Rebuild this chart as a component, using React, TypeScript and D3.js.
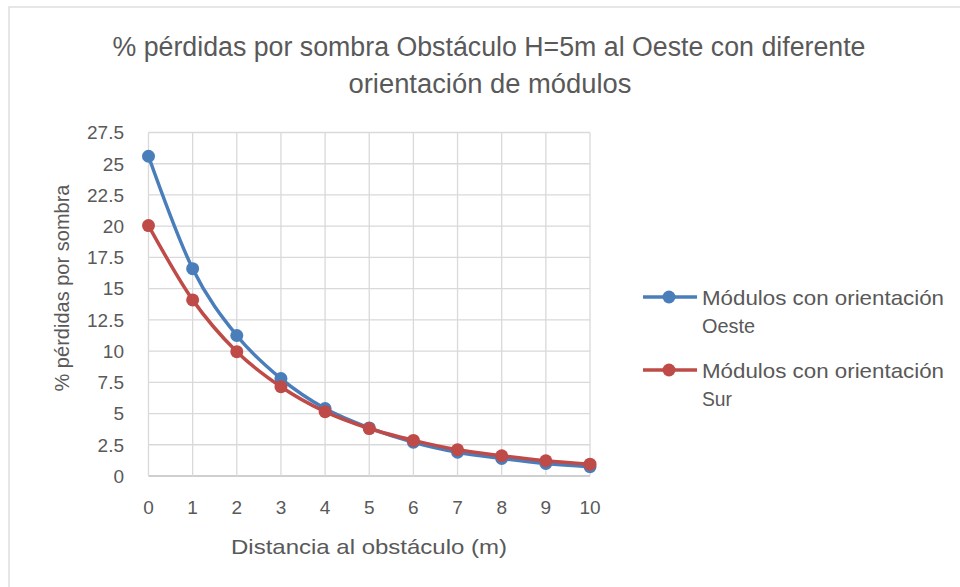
import React from "react";
import * as d3 from "d3";

const distances = [0, 1, 2, 3, 4, 5, 6, 7, 8, 9, 10];
const oeste = [25.6, 16.6, 11.25, 7.8, 5.4, 3.85, 2.7, 1.9, 1.4, 1.0, 0.75];
const sur = [20.05, 14.1, 9.95, 7.15, 5.15, 3.8, 2.85, 2.1, 1.62, 1.22, 0.95];
const yTicks = [0, 2.5, 5, 7.5, 10, 12.5, 15, 17.5, 20, 22.5, 25, 27.5];
const seriesNames = ["Módulos con orientación Oeste", "Módulos con orientación Sur"];
const titleLines = ["% pérdidas por sombra Obstáculo H=5m al Oeste con diferente", "orientación de módulos"];
const xTitle = "Distancia al obstáculo (m)";
const yTitle = "% pérdidas por sombra";

const FONT = "'Liberation Sans', Arial, sans-serif";
const TEXT = "#595959";
const COLORS = ["#4A7EBB", "#BE4B48"];

export default function App() {
  const W = 960, H = 587;
  const x = d3.scaleLinear().domain([0, 10]).range([148.5, 590]);
  const y = d3.scaleLinear().domain([0, 27.5]).range([476, 132.5]);
  const line = d3
    .line<[number, number]>()
    .x((d) => x(d[0]))
    .y((d) => y(d[1]))
    .curve(d3.curveCardinal.tension(0));
  const series = [oeste, sur];
  const legendSecondWidths = [53, 30];

  return (
    <svg width={W} height={H} style={{ position: "absolute", left: 0, top: 0, background: "#fff" }}>
      <rect x={9} y={7} width={W} height={H} fill="#fff" stroke="#d9d9d9" strokeWidth={1.3} />
      {/* title */}
      <text x={489} y={56} fontFamily={FONT} fontSize={27} fill={TEXT} textAnchor="middle" textLength={753} lengthAdjust="spacingAndGlyphs">
        {titleLines[0]}
      </text>
      <text x={490} y={93} fontFamily={FONT} fontSize={27} fill={TEXT} textAnchor="middle" textLength={283} lengthAdjust="spacingAndGlyphs">
        {titleLines[1]}
      </text>
      {/* gridlines */}
      {yTicks.map((t) => (
        <line key={"gy" + t} x1={x(0)} x2={x(10)} y1={y(t)} y2={y(t)} stroke={t === 0 ? "#bfbfbf" : "#d9d9d9"} strokeWidth={1.3} />
      ))}
      {distances.map((d) => (
        <line key={"gx" + d} x1={x(d)} x2={x(d)} y1={y(0)} y2={y(27.5)} stroke="#d9d9d9" strokeWidth={1.3} />
      ))}
      {/* y tick labels */}
      {yTicks.map((t) => (
        <text key={"ty" + t} x={124} y={y(t) + 6.8} fontFamily={FONT} fontSize={19} fill={TEXT} textAnchor="end">
          {String(t)}
        </text>
      ))}
      {/* x tick labels */}
      {distances.map((d) => (
        <text key={"tx" + d} x={x(d)} y={514} fontFamily={FONT} fontSize={19} fill={TEXT} textAnchor="middle">
          {String(d)}
        </text>
      ))}
      {/* axis titles */}
      <text x={369} y={554} fontFamily={FONT} fontSize={21} fill={TEXT} textAnchor="middle" textLength={276} lengthAdjust="spacingAndGlyphs">
        {xTitle}
      </text>
      <text
        transform={`translate(69, ${288}) rotate(-90)`}
        fontFamily={FONT}
        fontSize={21}
        fill={TEXT}
        textAnchor="middle"
        textLength={207}
        lengthAdjust="spacingAndGlyphs"
      >
        {yTitle}
      </text>
      {/* series */}
      {series.map((vals, i) => {
        const pts: [number, number][] = distances.map((d, j) => [d, vals[j]]);
        return (
          <g key={"s" + i}>
            <path d={line(pts) || ""} fill="none" stroke={COLORS[i]} strokeWidth={3.5} strokeLinejoin="round" />
            {pts.map((p, j) => (
              <circle key={j} cx={x(p[0])} cy={y(p[1])} r={6.5} fill={COLORS[i]} />
            ))}
          </g>
        );
      })}
      {/* legend */}
      {seriesNames.map((name, i) => {
        const cy = 297 + i * 73;
        const words = name.split(" ");
        const l1 = words.slice(0, 3).join(" ");
        const l2 = words.slice(3).join(" ");
        return (
          <g key={"lg" + i}>
            <line x1={643} x2={697} y1={cy} y2={cy} stroke={COLORS[i]} strokeWidth={3.5} />
            <circle cx={669} cy={cy} r={6.5} fill={COLORS[i]} />
            <text x={702} y={cy + 7.5} fontFamily={FONT} fontSize={21} fill={TEXT} textLength={242} lengthAdjust="spacingAndGlyphs">
              {l1}
            </text>
            <text x={702} y={cy + 36} fontFamily={FONT} fontSize={21} fill={TEXT} textLength={legendSecondWidths[i]} lengthAdjust="spacingAndGlyphs">
              {l2}
            </text>
          </g>
        );
      })}
    </svg>
  );
}
